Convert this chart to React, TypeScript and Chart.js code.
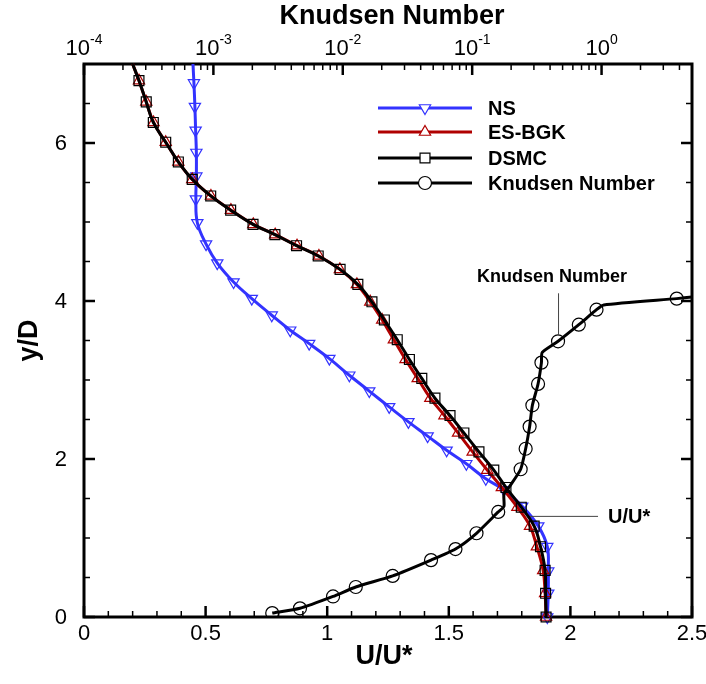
import React, { useEffect, useRef } from "react";
import { Chart, registerables } from "chart.js";
Chart.register(...registerables);

// ---------- data ----------
const uNS = [0.448, 0.452, 0.456, 0.459, 0.462, 0.462, 0.460, 0.466, 0.502, 0.548, 0.615, 0.690, 0.772, 0.848, 0.926, 1.009, 1.091, 1.173, 1.255, 1.334, 1.413, 1.491, 1.572, 1.652, 1.727, 1.802, 1.868, 1.905, 1.909, 1.909, 1.905];
const yNS = [7.0, 6.76, 6.46, 6.16, 5.88, 5.58, 5.29, 4.99, 4.72, 4.48, 4.24, 4.03, 3.82, 3.63, 3.46, 3.27, 3.06, 2.86, 2.66, 2.47, 2.29, 2.11, 1.94, 1.75, 1.61, 1.40, 1.15, 0.89, 0.58, 0.30, 0.0];

const uBGK = [0.200, 0.226, 0.256, 0.286, 0.336, 0.388, 0.445, 0.522, 0.604, 0.696, 0.786, 0.876, 0.966, 1.052, 1.122, 1.177, 1.226, 1.274, 1.322, 1.372, 1.424, 1.482, 1.538, 1.598, 1.658, 1.718, 1.782, 1.834, 1.862, 1.888, 1.896, 1.900];
const yBGK = [7.0, 6.79, 6.52, 6.26, 6.01, 5.76, 5.54, 5.33, 5.15, 4.97, 4.84, 4.70, 4.57, 4.40, 4.21, 3.99, 3.76, 3.51, 3.26, 3.02, 2.77, 2.55, 2.33, 2.09, 1.86, 1.64, 1.39, 1.15, 0.89, 0.59, 0.30, 0.0];

const uDSMC = [0.200, 0.226, 0.256, 0.285, 0.336, 0.388, 0.445, 0.521, 0.603, 0.695, 0.785, 0.874, 0.963, 1.053, 1.126, 1.184, 1.235, 1.288, 1.338, 1.389, 1.443, 1.505, 1.562, 1.624, 1.685, 1.735, 1.798, 1.851, 1.877, 1.896, 1.898, 1.900];
const yDSMC = [7.0, 6.79, 6.52, 6.26, 6.01, 5.76, 5.54, 5.33, 5.15, 4.97, 4.84, 4.70, 4.57, 4.40, 4.21, 3.99, 3.76, 3.51, 3.26, 3.02, 2.77, 2.55, 2.33, 2.09, 1.86, 1.64, 1.39, 1.15, 0.89, 0.59, 0.30, 0.0];

// Knudsen number: symbol points and line-only vertices
const yKnMark = [0.05, 0.11, 0.26, 0.38, 0.52, 0.72, 0.86, 1.06, 1.33, 1.87, 2.13, 2.41, 2.68, 2.95, 3.22, 3.49, 3.70, 3.89, 4.03];
const knMark = [2.85e-3, 4.67e-3, 8.41e-3, 1.26e-2, 2.43e-2, 4.81e-2, 7.43e-2, 0.108, 0.159, 0.237, 0.259, 0.278, 0.292, 0.323, 0.343, 0.461, 0.667, 0.914, 3.81];
const yKnBend = [1.40, 1.56, 1.65, 3.35, 3.95, 4.05];
const knBend = [0.176, 0.176, 0.194, 0.348, 1.04, 5.0];

// axes / ticks
const uTicks = [0, 0.5, 1, 1.5, 2, 2.5];
const yTicks = [0, 2, 4, 6];
const knDecades = [-4, -3, -2, -1, 0];
const U_MAX = 2.5;
const Y_MAX = 7;
const KN_MIN = 1e-4;
const KN_MAX = 5;

const legendLabels = ["NS", "ES-BGK", "DSMC", "Knudsen Number"];

// ---------- styles ----------
const FONT = "'Liberation Sans', Arial, Helvetica, sans-serif";
const BLUE = "#3333ff";
const RED = "#b00000";
const BLACK = "#000000";

type P = { x: number; y: number; m: boolean };

function curve(us: number[], ys: number[]): P[] {
  return us.map((u, i) => ({ x: u, y: ys[i], m: ys[i] < Y_MAX }));
}

function knCurve(): P[] {
  const pts: P[] = [];
  yKnMark.forEach((y, i) => pts.push({ x: knMark[i], y, m: true }));
  yKnBend.forEach((y, i) => pts.push({ x: knBend[i], y, m: false }));
  pts.sort((a, b) => a.y - b.y);
  return pts;
}

function drawMarker(ctx: CanvasRenderingContext2D, kind: string, x: number, y: number, r: number, color: string) {
  ctx.save();
  ctx.strokeStyle = color;
  ctx.lineWidth = 1.2;
  ctx.beginPath();
  if (kind === "tri" || kind === "itri") {
    const s = kind === "tri" ? 1 : -1;
    for (let k = 0; k < 3; k++) {
      const a = (k * 2 * Math.PI) / 3;
      const px = x + Math.sin(a) * r;
      const py = y - s * Math.cos(a) * r;
      if (k === 0) ctx.moveTo(px, py);
      else ctx.lineTo(px, py);
    }
    ctx.closePath();
  } else if (kind === "rect") {
    const h = r * Math.SQRT1_2;
    ctx.rect(x - h, y - h, 2 * h, 2 * h);
  } else {
    ctx.arc(x, y, r, 0, Math.PI * 2);
  }
  ctx.fillStyle = "#ffffff";
  ctx.fill();
  ctx.stroke();
  ctx.restore();
}

const framePlugin = {
  id: "tecplotFrame",
  beforeDatasetsDraw(chart: any) {
    const { ctx, chartArea: a, scales } = chart;
    const sx = scales.x;
    const sx2 = scales.x2;
    const sy = scales.y;
    ctx.save();
    ctx.strokeStyle = "#000";
    ctx.lineCap = "butt";
    const tick = (x1: number, y1: number, x2: number, y2: number, w: number) => {
      ctx.lineWidth = w;
      ctx.beginPath();
      ctx.moveTo(x1, y1);
      ctx.lineTo(x2, y2);
      ctx.stroke();
    };
    // bottom linear ticks (inward)
    for (let i = 0; i <= 25; i++) {
      const v = i / 10;
      const px = sx.getPixelForValue(v);
      const major = i % 5 === 0;
      tick(px, a.bottom, px, a.bottom - (major ? 11 : 6), major ? 2.5 : 1.5);
    }
    // top log ticks
    for (const d of knDecades) {
      for (let m = 1; m <= 9; m++) {
        const v = m * Math.pow(10, d);
        if (v > KN_MAX) continue;
        const px = sx2.getPixelForValue(v);
        const major = m === 1;
        tick(px, a.top, px, a.top + (major ? 11 : 6), major ? 2.5 : 1.5);
      }
    }
    // left / right ticks
    for (let i = 0; i <= 14; i++) {
      const v = i / 2;
      const py = sy.getPixelForValue(v);
      const major = i % 4 === 0;
      const len = major ? 11 : 6;
      const w = major ? 2.5 : 1.5;
      tick(a.left, py, a.left + len, py, w);
      tick(a.right, py, a.right - len, py, w);
    }
    ctx.lineWidth = 3;
    ctx.strokeRect(a.left, a.top, a.right - a.left, a.bottom - a.top);
    ctx.restore();
  },
  afterDraw(chart: any) {
    const { ctx, chartArea: a, scales } = chart;
    const sx = scales.x;
    const sx2 = scales.x2;
    const sy = scales.y;
    ctx.save();
    ctx.fillStyle = "#000";
    // bottom tick labels
    ctx.font = `22px ${FONT}`;
    ctx.textAlign = "center";
    ctx.textBaseline = "middle";
    for (const v of uTicks) {
      ctx.fillText(String(v), sx.getPixelForValue(v), a.bottom + 17);
    }
    // left tick labels
    ctx.textAlign = "right";
    for (const v of yTicks) {
      ctx.fillText(String(v), a.left - 17, sy.getPixelForValue(v) + 1);
    }
    // top log labels
    ctx.textBaseline = "alphabetic";
    ctx.textAlign = "left";
    for (const d of knDecades) {
      const px = sx2.getPixelForValue(Math.pow(10, d));
      const exp = d === 0 ? "0" : "-" + Math.abs(d);
      ctx.font = `22px ${FONT}`;
      const w1 = ctx.measureText("10").width;
      ctx.font = `14px ${FONT}`;
      const w2 = ctx.measureText(exp).width;
      const x0 = px - (w1 + w2) / 2;
      ctx.font = `22px ${FONT}`;
      ctx.fillText("10", x0, a.top - 9);
      ctx.font = `14px ${FONT}`;
      ctx.fillText(exp, x0 + w1, a.top - 20);
    }
    // axis titles
    ctx.font = `bold 27px ${FONT}`;
    ctx.textAlign = "center";
    ctx.textBaseline = "middle";
    ctx.fillText("Knudsen Number", (a.left + a.right) / 2 + 4, 17);
    ctx.fillText("U/U*", (a.left + a.right) / 2 - 4, a.bottom + 40);
    ctx.save();
    ctx.translate(30, (a.top + a.bottom) / 2);
    ctx.rotate(-Math.PI / 2);
    ctx.fillText("y/D", 0, 0);
    ctx.restore();

    // annotation: Knudsen Number
    const kx = sx2.getPixelForValue(knMark[15]);
    const ky = sy.getPixelForValue(yKnMark[15]);
    ctx.strokeStyle = "#444";
    ctx.lineWidth = 1;
    ctx.beginPath();
    ctx.moveTo(kx + 0.5, ky - 6);
    ctx.lineTo(kx + 0.5, ky - 48);
    ctx.stroke();
    ctx.font = `bold 18px ${FONT}`;
    ctx.fillText("Knudsen Number", kx - 6, ky - 64);

    // annotation: U/U*
    const ux = sx.getPixelForValue(1.834);
    const uy = sy.getPixelForValue(1.28);
    ctx.beginPath();
    ctx.moveTo(ux, uy + 0.5);
    ctx.lineTo(ux + 68, uy + 0.5);
    ctx.stroke();
    ctx.font = `bold 20px ${FONT}`;
    ctx.textAlign = "left";
    ctx.fillText("U/U*", ux + 78, uy + 2);

    // legend
    const styles = [
      { c: BLUE, k: "itri", r: 6.5 },
      { c: RED, k: "tri", r: 6.5 },
      { c: BLACK, k: "rect", r: 7 },
      { c: BLACK, k: "circle", r: 6.5 },
    ];
    const rows = [108, 132, 158, 183];
    legendLabels.forEach((label, i) => {
      const y = rows[i];
      const s = styles[i];
      ctx.strokeStyle = s.c;
      ctx.lineWidth = 3;
      ctx.beginPath();
      ctx.moveTo(378, y);
      ctx.lineTo(472, y);
      ctx.stroke();
      drawMarker(ctx, s.k, 425, y, s.r, s.c);
      ctx.fillStyle = "#000";
      ctx.font = `bold 20px ${FONT}`;
      ctx.textAlign = "left";
      ctx.textBaseline = "middle";
      ctx.fillText(label, 488, y + 1);
    });
    ctx.restore();
  },
};

export default function App() {
  const ref = useRef<HTMLCanvasElement>(null);
  useEffect(() => {
    const canvas = ref.current;
    if (!canvas) return;
    const radius = (r: number) => (c: any) => (c.raw && c.raw.m ? r : 0);
    const chart = new Chart(canvas, {
      type: "line",
      data: {
        datasets: [
          {
            label: legendLabels[0],
            data: curve(uNS, yNS),
            xAxisID: "x",
            yAxisID: "y",
            borderColor: BLUE,
            borderWidth: 3,
            pointStyle: "triangle",
            rotation: 180,
            pointRadius: radius(6.5),
            pointBorderColor: BLUE,
            pointBackgroundColor: "rgba(255,255,255,0)",
            pointBorderWidth: 1.2,
            tension: 0.4,
            clip: false,
            order: 4,
          },
          {
            label: legendLabels[1],
            data: curve(uBGK, yBGK),
            xAxisID: "x",
            yAxisID: "y",
            borderColor: RED,
            borderWidth: 3,
            pointStyle: "triangle",
            pointRadius: radius(6.5),
            pointBorderColor: RED,
            pointBackgroundColor: "rgba(255,255,255,0)",
            pointBorderWidth: 1.2,
            tension: 0.4,
            clip: false,
            order: 3,
          },
          {
            label: legendLabels[2],
            data: curve(uDSMC, yDSMC),
            xAxisID: "x",
            yAxisID: "y",
            borderColor: BLACK,
            borderWidth: 3,
            pointStyle: "rect",
            pointRadius: radius(7),
            pointBorderColor: BLACK,
            pointBackgroundColor: "rgba(255,255,255,0)",
            pointBorderWidth: 1.2,
            tension: 0.4,
            clip: false,
            order: 2,
          },
          {
            label: legendLabels[3],
            data: knCurve(),
            xAxisID: "x2",
            yAxisID: "y",
            borderColor: BLACK,
            borderWidth: 3,
            pointStyle: "circle",
            pointRadius: radius(6.5),
            pointBorderColor: BLACK,
            pointBackgroundColor: "rgba(255,255,255,0)",
            pointBorderWidth: 1.2,
            tension: 0.2,
            order: 1,
          },
        ] as any,
      },
      options: {
        responsive: false,
        maintainAspectRatio: false,
        animation: false,
        events: [],
        layout: { padding: { left: 84, top: 64, right: 14, bottom: 67 } },
        scales: {
          x: { type: "linear", display: false, min: 0, max: U_MAX, position: "bottom" },
          x2: { type: "logarithmic", display: false, min: KN_MIN, max: KN_MAX, position: "top" },
          y: { type: "linear", display: false, min: 0, max: Y_MAX },
        },
        plugins: { legend: { display: false }, tooltip: { enabled: false } },
      } as any,
      plugins: [framePlugin],
    });
    return () => chart.destroy();
  }, []);
  return (
    <canvas
      ref={ref}
      width={706}
      height={684}
      style={{ display: "block", position: "absolute", left: 0, top: 0 }}
    />
  );
}
